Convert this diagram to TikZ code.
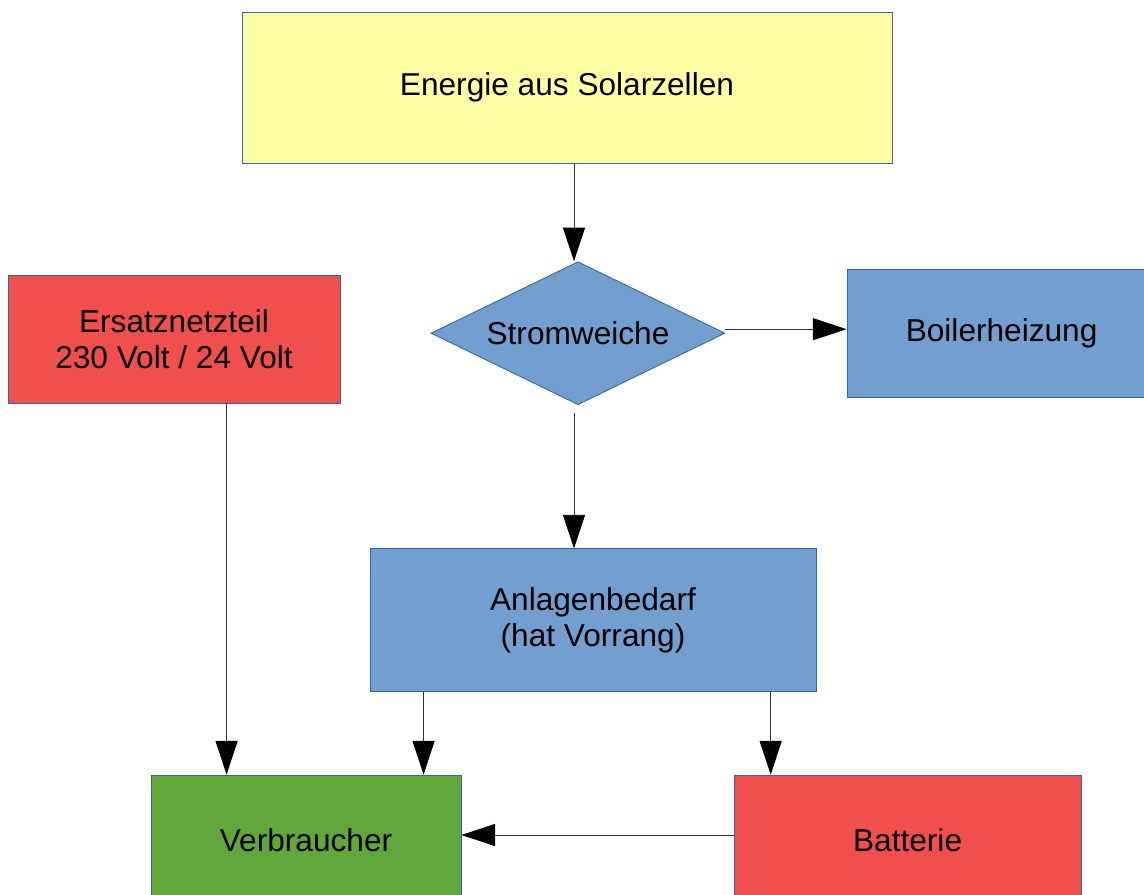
\documentclass[tikz,border=0pt]{standalone}
\usepackage{fontspec}
\setmainfont{Liberation Sans}
\usetikzlibrary{shapes.geometric,arrows.meta}

\definecolor{solarYellow}{HTML}{FFFFA6}
\definecolor{boxBlue}{HTML}{729FCF}
\definecolor{boxRed}{HTML}{F04F4D}
\definecolor{boxGreen}{HTML}{62A73B}
\definecolor{edgeBlue}{HTML}{3465A4}

\begin{document}
\begin{tikzpicture}[
        box/.style={rectangle, draw=edgeBlue, line width=0.6pt, inner sep=0pt, align=center,
            font=\fontsize{22.5}{26}\selectfont},
        arr/.style={-{Triangle[length=0.84cm, width=0.55cm, fill=black, color=black]}, line width=0.6pt, black!80}
    ]
        \clip (0, 0) rectangle (28.6, -22.375);
        \fill[white] (0, 0) rectangle (28.6, -22.375);

        % Nodes
        \node[box, fill=solarYellow, minimum width=16.25cm, minimum height=3.78cm] at (14.175, -2.19)  (solar)   {\raisebox{-0.1cm}{Energie aus Solarzellen}};
        \node[box, diamond, aspect=2.06, fill=boxBlue, minimum width=7.35cm, minimum height=3.575cm] at (14.45, -8.33)  (weiche)  {Stromweiche};
        \node[box, fill=boxBlue, minimum width=7.43cm, minimum height=3.2cm] at (24.89, -8.325)  (boiler)  {\hspace{0.3cm}Boilerheizung};
        \node[box, fill=boxRed, minimum width=8.3cm, minimum height=3.2cm] at (4.35, -8.475)  (ersatz)  {Ersatznetzteil\\230 Volt / 24 Volt};
        \node[box, fill=boxBlue, minimum width=11.15cm, minimum height=3.575cm] at (14.825, -15.51)  (anlagen) {Anlagenbedarf\\(hat Vorrang)};
        \node[box, fill=boxGreen, minimum width=7.75cm, minimum height=3.25cm] at (7.65, -21.0)  (verbr)   {Verbraucher};
        \node[box, fill=boxRed, minimum width=8.675cm, minimum height=3.25cm] at (22.69, -21.0)  (batt)    {Batterie};


        \draw[arr]  ([xshift=-0.1cm]solar.south -| weiche.north) -- ([xshift=-0.1cm]weiche.north);

        \draw[arr]  ([yshift=0.1cm]weiche.east) -- ([yshift=0.1cm]weiche.east -| boiler.west);
        \draw[arr]  ([xshift=-0.1cm,yshift=-0.2cm]weiche.south) -- ([xshift=-0.1cm]weiche.south |- anlagen.north);

        \draw[arr]  ([xshift=1.9cm]verbr.north west |- ersatz.south) -- ([xshift=1.9cm]verbr.north west);

        \draw[arr]  ([xshift=1.35cm]anlagen.south west) -- ([xshift=1.35cm]anlagen.south west |- verbr.north);
        \draw[arr]  ([xshift=0.925cm]batt.north west |- anlagen.south) -- ([xshift=0.925cm]batt.north west);

        \draw[arr]  ([yshift=0.125cm]batt.west) -- ([yshift=0.125cm]verbr.east);
    \end{tikzpicture}
\end{document}
